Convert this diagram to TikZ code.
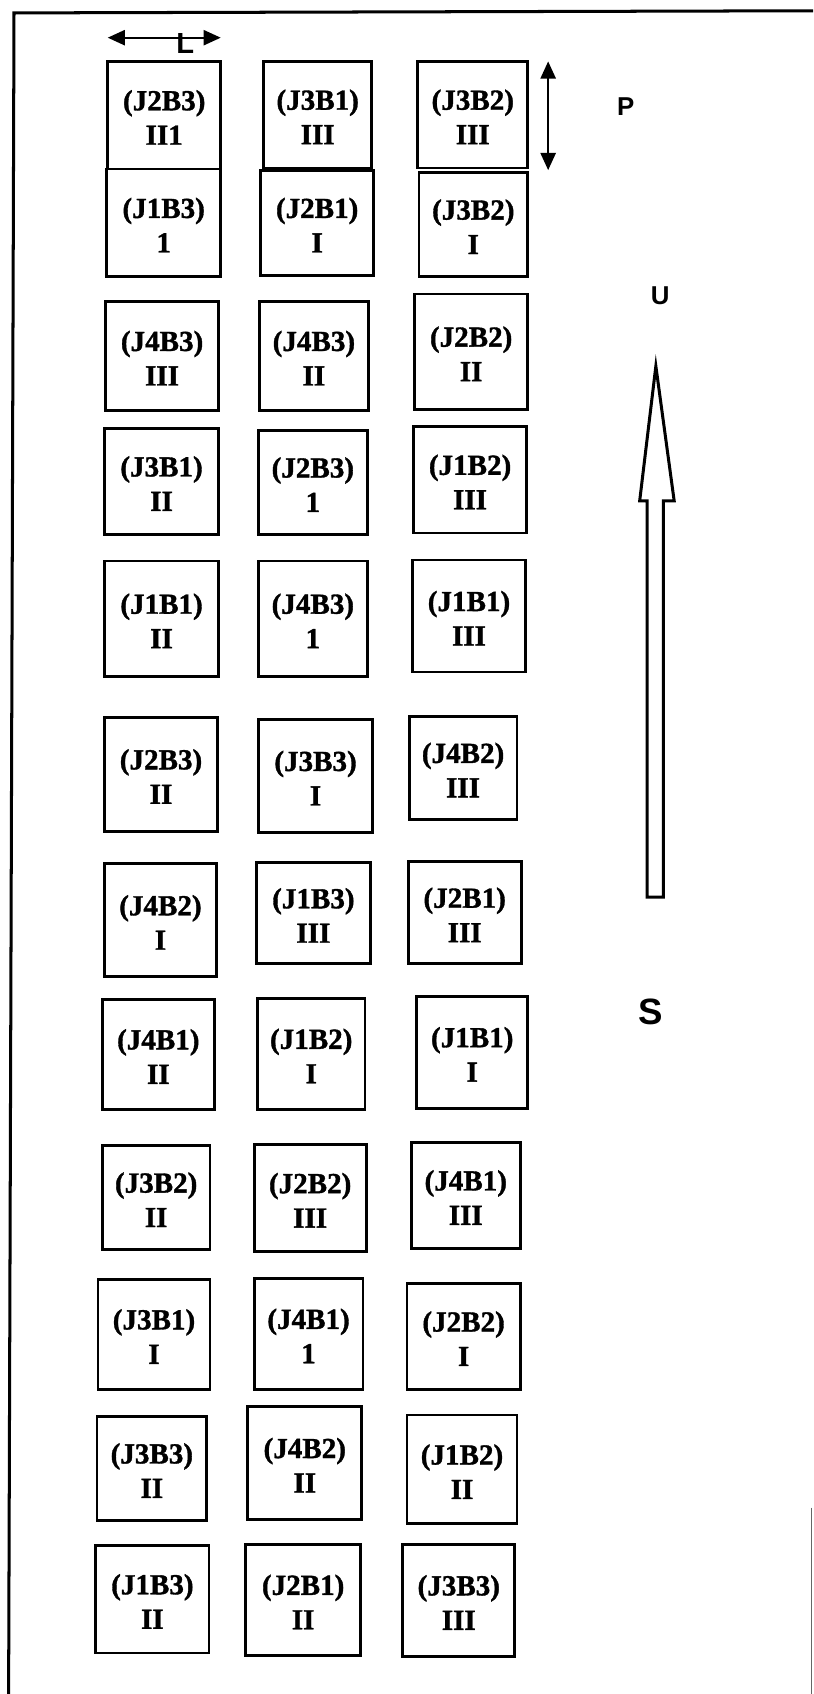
\documentclass[tikz,border=0pt]{standalone}
\usepackage{fontspec}
\setmainfont{Liberation Serif}
\newfontfamily\boxfont{Liberation Serif Bold}[FakeBold=1.2]
\newfontfamily\sansb{Liberation Sans}
\usetikzlibrary{arrows.meta}
\tikzset{
  box/.style={draw, line width=2.6pt, inner sep=0pt,
    font=\boxfont\fontsize{27}{32}\selectfont},
  dimarrow/.style={line width=2.2pt,
    {Triangle[length=16pt,width=14pt]}-{Triangle[length=16pt,width=14pt]}},
  lbl/.style={font=\sansb\bfseries\fontsize{24}{28}\selectfont, inner sep=0pt},
  llbl/.style={font=\sansb\bfseries\fontsize{27}{30}\selectfont, inner sep=0pt},
  biglbl/.style={font=\sansb\bfseries\fontsize{34}{40}\selectfont, inner sep=0pt},
  frameline/.style={line width=2.8pt},
  hollow/.style={line width=2.8pt, line join=miter}
}
\newcommand\bx[7]{\node[box, minimum width={(#4-#2)*1pt}, minimum height={(#5-#3)*1pt}] (#1) at ({(#2+#4)/2},{(#3+#5)/2}) {\raisebox{-5pt}[\height][\depth]{\begin{tabular}{@{}c@{}}#6\\#7\end{tabular}}};}
\begin{document}
\begin{tikzpicture}[x=1pt,y=-1pt]
\useasboundingbox (0,0) rectangle (755,1573);
% frame
\draw[frameline] (8,1573) -- (13,12) -- (755,10);
\draw[line width=1.2pt, black!60] (753.5,1400) -- (753.5,1573);
% boxes: name, x1, y1, x2, y2, line1, line2
\bx{a1}{100}{57}{205}{157}{(J2B3)}{II1}
\bx{a2}{245}{57}{345}{156}{(J3B1)}{III}
\bx{a3}{388}{57}{490}{156}{(J3B2)}{III}
\bx{b1}{99}{157}{205}{257}{(J1B3)}{1}
\bx{b2}{242}{158}{347}{256}{(J2B1)}{I}
\bx{b3}{389}{160}{490}{257}{(J3B2)}{I}
\bx{c1}{98}{280}{203}{381}{(J4B3)}{III}
\bx{c2}{241}{280}{342}{381}{(J4B3)}{II}
\bx{c3}{385}{273}{490}{380}{(J2B2)}{II}
\bx{d1}{97}{398}{203}{496}{(J3B1)}{II}
\bx{d2}{240}{400}{341}{496}{(J2B3)}{1}
\bx{d3}{384}{396}{489}{495}{(J1B2)}{III}
\bx{e1}{97}{521}{203}{628}{(J1B1)}{II}
\bx{e2}{240}{521}{341}{628}{(J4B3)}{1}
\bx{e3}{383}{520}{488}{624}{(J1B1)}{III}
\bx{f1}{97}{666}{202}{772}{(J2B3)}{II}
\bx{f2}{240}{668}{346}{773}{(J3B3)}{I}
\bx{f3}{380}{665}{480}{761}{(J4B2)}{III}
\bx{g1}{97}{802}{201}{907}{(J4B2)}{I}
\bx{g2}{238}{801}{344}{895}{(J1B3)}{III}
\bx{g3}{379}{800}{484}{895}{(J2B1)}{III}
\bx{h1}{95}{928}{199}{1030}{(J4B1)}{II}
\bx{h2}{239}{927}{339}{1030}{(J1B2)}{I}
\bx{h3}{387}{925}{490}{1029}{(J1B1)}{I}
\bx{i1}{95}{1064}{195}{1160}{(J3B2)}{II}
\bx{i2}{236}{1063}{340}{1162}{(J2B2)}{III}
\bx{i3}{382}{1061}{483}{1159}{(J4B1)}{III}
\bx{j1}{91}{1188}{195}{1290}{(J3B1)}{I}
\bx{j2}{236}{1187}{337}{1290}{(J4B1)}{1}
\bx{j3}{378}{1192}{483}{1290}{(J2B2)}{I}
\bx{k1}{90}{1315}{192}{1412}{(J3B3)}{II}
\bx{k2}{230}{1306}{336}{1411}{(J4B2)}{II}
\bx{k3}{378}{1314}{480}{1415}{(J1B2)}{II}
\bx{l1}{89}{1435}{194}{1535}{(J1B3)}{II}
\bx{l2}{228}{1434}{335}{1537}{(J2B1)}{II}
\bx{l3}{374}{1434}{478}{1538}{(J3B3)}{III}
% L dimension
\coordinate (Ll) at (100,35);
\coordinate (Lr) at (205,35);
\draw[dimarrow] (Ll) -- (Lr);
\node[llbl, anchor=north] (Ltext) at (172,31) {L};
% P dimension
\coordinate (Pt) at (509,57);
\coordinate (Pb) at (509,158);
\draw[dimarrow] (Pt) -- (Pb);
\node[lbl] (Ptext) at (581,99) {P};
% U label and hollow arrow
\node[lbl] (Utext) at (613,275) {U};
\draw[hollow] (609,340) -- (626,465) -- (616,465) -- (616,833) -- (601,833) -- (601,465) -- (594,465) -- cycle;
% S label
\node[biglbl] (Stext) at (604,940) {S};
\end{tikzpicture}
\end{document}
